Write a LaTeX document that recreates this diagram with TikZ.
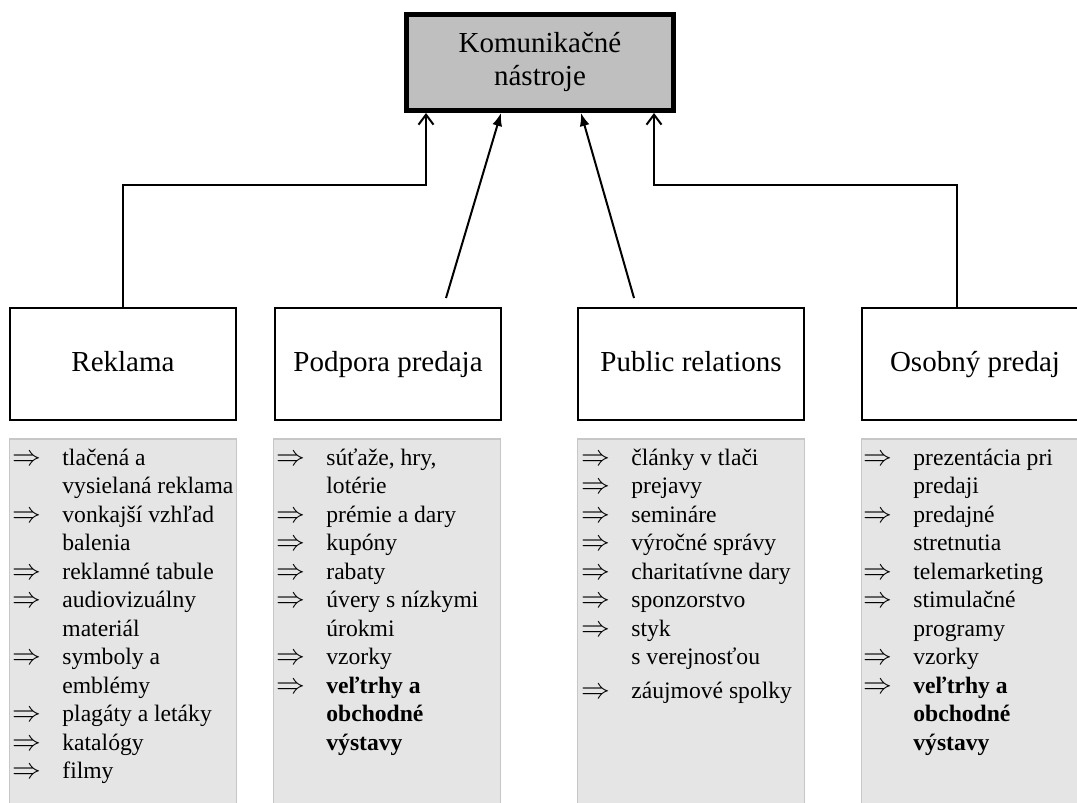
\documentclass[tikz,border=0pt]{standalone}
\usepackage{fontspec}
\setmainfont{Liberation Serif}
\usepackage{tikz}
\usetikzlibrary{arrows.meta, positioning}

\newcommand{\itemarrow}{{\fontsize{14}{14}\selectfont$\Rightarrow$}}

\begin{document}
\begin{tikzpicture}[x=0.5pt, y=-0.5pt,
    topbox/.style={rectangle, draw=black, line width=2.5pt, fill=black!25, minimum width=133.5pt, minimum height=48pt, inner sep=0pt, font=\fontsize{14.5}{16.5}\selectfont},
    catbox/.style={rectangle, draw=black, line width=1pt, fill=white, minimum width=113pt, minimum height=56pt, inner sep=0pt, font=\fontsize{14.5}{17}\selectfont, text height=10pt, text depth=2.5pt},
    listbg/.style={rectangle, draw=black!22, line width=0.75pt, fill=black!10, minimum width=113.5pt, minimum height=200pt, anchor=north, inner sep=0pt},
    listtext/.style={anchor=north west, inner sep=0pt, font=\fontsize{11.8}{14.25}\selectfont},
    openarrow/.style={draw=black, line width=1pt, -{Straight Barb[length=5pt, width=7.5pt]}},
    fullarrow/.style={draw=black, line width=1pt, -{Latex[length=6.5pt, width=5pt]}}]

    \useasboundingbox (0,0) rectangle (1077,803);
    \clip (0,0) rectangle (1077,803);

    % Main box
    \node [topbox] at (540, 62.5) (top)
      {\raisebox{3.8pt}{\begin{tabular}{@{}c@{}}Komunikačné\\nástroje\end{tabular}}};

    % Categories
    \node [catbox] at (123, 363.5) (reklama) {Reklama};
    \node [catbox] at (388, 363.5) (podpora) {Podpora predaja};
    \node [catbox] at (691, 363.5) (public) {Public relations};
    \node [catbox] at (975, 363.5) (osobny) {Osobný predaj};

    % Lists
    \node [listbg] at (123, 438) (rekbg) {};
    \node [listbg] at (387, 438) (podbg) {};
    \node [listbg] at (691, 438) (pubbg) {};
    \node [listbg] at (975, 438) (osobg) {};

    \node [listtext] at (12, 445) (reklist) {%
      \begin{tabular}{@{}p{25pt}@{}l@{}}
        \itemarrow & tlačená a\\
                   & vysielaná reklama\\
        \itemarrow & vonkajší vzhľad\\
                   & balenia\\
        \itemarrow & reklamné tabule\\
        \itemarrow & audiovizuálny\\
                   & materiál\\
        \itemarrow & symboly a\\
                   & emblémy\\
        \itemarrow & plagáty a letáky\\
        \itemarrow & katalógy\\
        \itemarrow & filmy
      \end{tabular}};
    \node [listtext] at (276, 445) (podlist) {%
      \begin{tabular}{@{}p{25pt}@{}l@{}}
        \itemarrow & súťaže, hry,\\
                   & lotérie\\
        \itemarrow & prémie a dary\\
        \itemarrow & kupóny\\
        \itemarrow & rabaty\\
        \itemarrow & úvery s nízkymi\\
                   & úrokmi\\
        \itemarrow & vzorky\\
        \itemarrow & \textbf{veľtrhy a}\\
                   & \textbf{obchodné}\\
                   & \textbf{výstavy}
      \end{tabular}};
    \node [listtext] at (581, 445) (publist) {%
      \begin{tabular}{@{}p{25pt}@{}l@{}}
        \itemarrow & články v tlači\\
        \itemarrow & prejavy\\
        \itemarrow & semináre\\
        \itemarrow & výročné správy\\
        \itemarrow & charitatívne dary\\
        \itemarrow & sponzorstvo\\
        \itemarrow & styk\\
                   & s verejnosťou\\[2.75pt]
        \itemarrow & záujmové spolky
      \end{tabular}};
    \node [listtext] at (863, 445) (osolist) {%
      \begin{tabular}{@{}p{25pt}@{}l@{}}
        \itemarrow & prezentácia pri\\
                   & predaji\\
        \itemarrow & predajné\\
                   & stretnutia\\
        \itemarrow & telemarketing\\
        \itemarrow & stimulačné\\
                   & programy\\
        \itemarrow & vzorky\\
        \itemarrow & \textbf{veľtrhy a}\\
                   & \textbf{obchodné}\\
                   & \textbf{výstavy}
      \end{tabular}};

    % Connectors
    \coordinate (rekbend) at (426, 185);
    \coordinate (osobend) at (654, 185);
    \coordinate (podstart) at (446, 298);
    \coordinate (pubstart) at (634, 298);
    \draw [openarrow] (reklama.north) |- (rekbend) -- (rekbend |- top.south);
    \draw [openarrow] ([xshift=-9pt]osobny.north) |- (osobend) -- (osobend |- top.south);
    \draw [fullarrow] (podstart) -- ([xshift=-19.5pt]top.south);
    \draw [fullarrow] (pubstart) -- ([xshift=20.5pt]top.south);

\end{tikzpicture}
\end{document}
